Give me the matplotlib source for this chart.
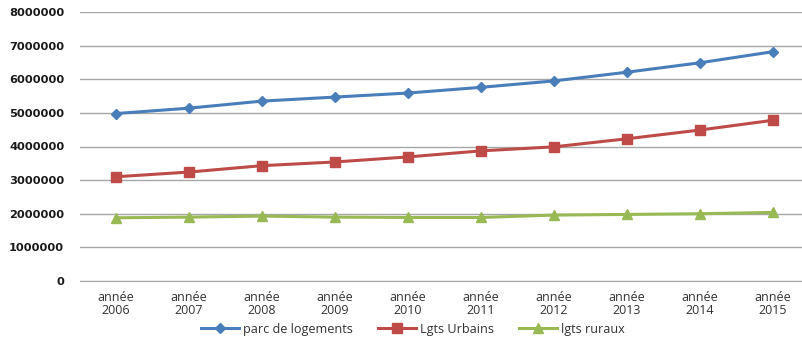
import numpy as np
import matplotlib
matplotlib.use("Agg")
import matplotlib.pyplot as plt

# data
years = ["2006", "2007", "2008", "2009", "2010", "2011", "2012", "2013", "2014", "2015"]
parc = [4980000, 5140000, 5350000, 5470000, 5590000, 5760000, 5950000, 6210000, 6490000, 6820000]
urbains = [3100000, 3240000, 3430000, 3540000, 3690000, 3870000, 3990000, 4230000, 4490000, 4780000]
ruraux = [1880000, 1900000, 1930000, 1900000, 1890000, 1890000, 1960000, 1980000, 2000000, 2040000]

labels = ["année\n" + y for y in years]

W, H = 802, 339
fig = plt.figure(figsize=(W / 100, H / 100), dpi=100)
ax = fig.add_axes([79.5 / W, 1 - 281 / H, 730 / W, 269 / H])

x = np.arange(len(years))
ax.plot(x, parc, color="#4a7ebb", lw=2.2, marker="D", ms=5.5, label="parc de logements")
ax.plot(x, urbains, color="#be4b48", lw=2.2, marker="s", ms=7, label="Lgts Urbains")
ax.plot(x, ruraux, color="#98b954", lw=2.2, marker="^", ms=7.5, label="lgts ruraux")

ax.set_xlim(-0.5, len(years) - 0.5)
ax.set_ylim(0, 8000000)
ax.set_yticks(np.arange(0, 8000001, 1000000))
ax.set_yticklabels([str(v) for v in range(0, 8000001, 1000000)],
                   fontfamily="DejaVu Sans", fontweight="bold", fontsize=8.2, color="#1a1a1a")
ax.set_xticks(x)
ax.set_xticklabels(labels, fontfamily="Open Sans", fontsize=9, color="#333333",
                   linespacing=1.0)

ax.yaxis.grid(True, color="#a6a6a6", lw=1)
ax.set_axisbelow(True)
for s in ["left", "right", "top"]:
    ax.spines[s].set_visible(False)
ax.spines["bottom"].set_color("#a6a6a6")
ax.tick_params(axis="both", length=0)
ax.tick_params(axis="y", pad=11)
ax.tick_params(axis="x", pad=7)

fig.legend(loc="center", bbox_to_anchor=(413 / W, 1 - 329 / H), ncol=3, frameon=False,
           prop={"family": "Open Sans", "size": 9.1}, handlelength=3.0,
           columnspacing=2.0, handletextpad=0.3, labelcolor="#333333")

fig.savefig("out.png", dpi=100)
